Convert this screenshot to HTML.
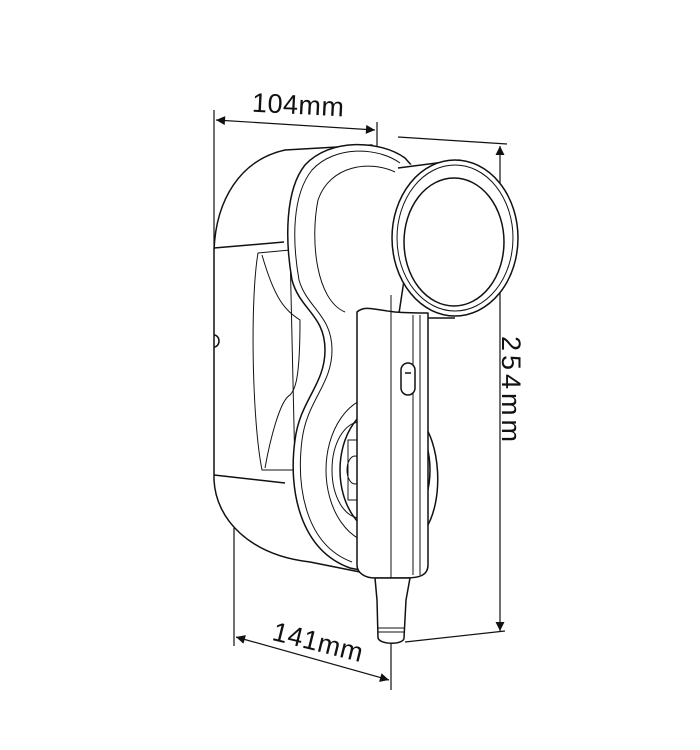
<!DOCTYPE html>
<html><head><meta charset="utf-8"><style>
html,body{margin:0;padding:0;background:#fff;}
svg{display:block;}
text{font-family:"Liberation Sans",sans-serif;fill:#111;}
</style></head><body>
<svg width="700" height="750" viewBox="0 0 700 750" xmlns="http://www.w3.org/2000/svg">
<defs>
<marker id="ar" viewBox="0 0 10 10" refX="10" refY="5" markerWidth="14" markerHeight="9" markerUnits="userSpaceOnUse" orient="auto-start-reverse"><path d="M0,0 L10,5 L0,10 z" fill="#111"/></marker>
</defs>
<g stroke="#111" fill="none" stroke-width="1.2">
<line x1="214" y1="110" x2="214" y2="250"/>
<line x1="377" y1="122" x2="377" y2="146"/>
<line x1="216" y1="120" x2="375" y2="130" marker-start="url(#ar)" marker-end="url(#ar)"/>
<line x1="398" y1="137" x2="507" y2="144"/>
<line x1="500" y1="146" x2="500" y2="631" marker-start="url(#ar)" marker-end="url(#ar)"/>
<line x1="405" y1="642" x2="505" y2="631"/>
<line x1="234" y1="528" x2="234" y2="646"/>
<line x1="391" y1="560" x2="391" y2="690"/>
<line x1="236" y1="637" x2="389" y2="680" marker-start="url(#ar)" marker-end="url(#ar)"/>
</g>
<text x="252" y="114" font-size="27" textLength="92" transform="rotate(3 298 105)">104mm</text>
<text x="272" y="648" font-size="27" textLength="92" transform="rotate(14 305 640)">141mm</text>
<text font-size="27" textLength="106" transform="translate(502 336) rotate(90)">254mm</text>
<g stroke="#111" fill="#fff" stroke-width="1.5" stroke-linejoin="round">
<path d="M372,145 L285,150 C240,160 216,200 214,250 L214,480 C216,520 250,555 310,562 L360,572 L360,150 Z"/>
<path d="M214,248 L284,242 M214,475 L285,483" fill="none"/>
<path d="M214,335 a5,6 0 0 1 0,12" fill="none"/>
<path d="M258,253 L290,250 L295,470 L262,470 C252,420 250,300 258,253 Z" fill="none" stroke-width="1"/>
<path d="M262,255 C275,300 285,310 300,320 C300,380 295,390 290,395 C280,400 270,440 265,468" fill="none" stroke-width="1"/>
<path d="M405,158 C380,140 330,138 305,165 C285,190 285,240 292,280 C300,310 325,315 325,350 C325,385 300,400 295,440 C288,490 300,550 350,568 L360,570 L420,175 Z"/>
<path d="M400,163 C378,147 335,145 312,170 C292,195 292,240 299,280 C307,308 332,315 332,350 C332,385 307,400 302,440 C296,488 306,545 352,562" fill="none" stroke-width="1"/>
<path d="M395,172 C370,160 330,165 318,200 C310,240 316,300 345,312" fill="none" stroke-width="1"/>
<ellipse cx="385" cy="470" rx="45" ry="65" fill="none"/>
<ellipse cx="378" cy="470" rx="52" ry="74" fill="none" stroke-width="1"/>
<ellipse cx="360" cy="470" rx="28" ry="48" fill="none" stroke-width="1"/>
<path d="M348,440 h20 v60 h-20 z" fill="none" stroke-width="1"/>
<ellipse cx="355" cy="470" rx="8" ry="14" fill="none" stroke-width="1"/>
<path d="M420,420 C440,440 445,500 425,530" fill="none"/>
<path d="M400,166 L462,158 L470,320 L405,320 Z" stroke="none"/>
<path d="M398,168 L460,160 M405,318 L455,318" fill="none"/>
<ellipse cx="455" cy="238" rx="63" ry="78"/>
<ellipse cx="455" cy="238" rx="58" ry="73" fill="none" stroke-width="1"/>
<ellipse cx="454" cy="242" rx="50" ry="64" fill="none"/>
<path d="M357,312 C365,305 375,310 395,312 C410,313 420,313 428,313 L428,565 C428,575 420,578 405,578 L375,578 C365,578 357,573 357,565 Z"/>
<line x1="391" y1="295" x2="391" y2="580" stroke-width="1"/>
<line x1="413" y1="315" x2="413" y2="575" stroke-width="1"/>
<line x1="420" y1="315" x2="420" y2="575" stroke-width="1"/>
<rect x="401" y="363" width="14" height="32" rx="7"/>
<line x1="405" y1="373" x2="411" y2="373"/>
<path d="M375,578 L410,578 L406,600 L404,638 C404,645 380,645 378,638 L377,600 Z"/>
<line x1="378" y1="628" x2="404" y2="628" stroke-width="1"/>
<line x1="378" y1="632" x2="404" y2="632" stroke-width="1"/>
</g>
</svg>
</body></html>
